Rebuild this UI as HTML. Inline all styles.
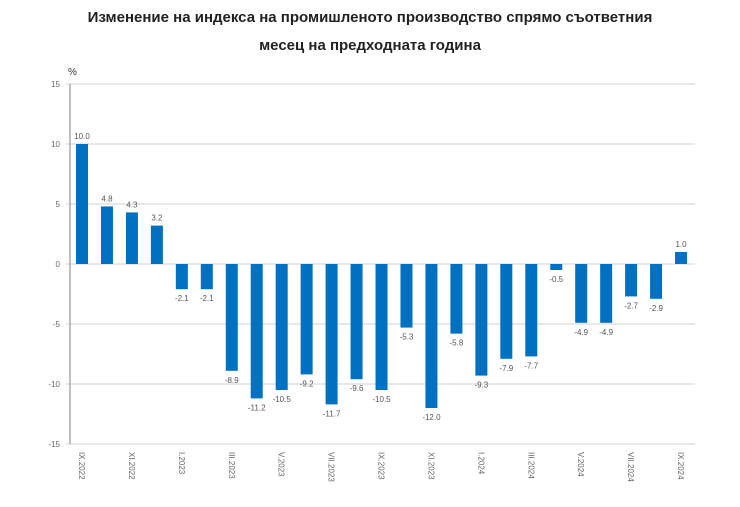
<!DOCTYPE html>
<html><head><meta charset="utf-8"><style>
body{margin:0;background:#fff;width:740px;height:502px;overflow:hidden}
svg text{font-family:"Liberation Sans","DejaVu Sans",sans-serif}
</style></head><body>
<svg width="740" height="502">
<text x="370" y="22" text-anchor="middle" font-size="15" font-weight="bold" fill="#222">Изменение на индекса на промишленото производство спрямо съответния</text>
<text x="370" y="50" text-anchor="middle" font-size="15" font-weight="bold" fill="#222">месец на предходната година</text>
<text x="68" y="75" font-size="10" fill="#333">%</text>
<g id="grid"></g><g id="bars"></g><g id="xl"></g>
</svg>
<script>
const categories=["IX.2022","X.2022","XI.2022","XII.2022","I.2023","II.2023","III.2023","IV.2023","V.2023","VI.2023","VII.2023","VIII.2023","IX.2023","X.2023","XI.2023","XII.2023","I.2024","II.2024","III.2024","IV.2024","V.2024","VI.2024","VII.2024","VIII.2024","IX.2024"];
const values=[10.0,4.8,4.3,3.2,-2.1,-2.1,-8.9,-11.2,-10.5,-9.2,-11.7,-9.6,-10.5,-5.3,-12.0,-5.8,-9.3,-7.9,-7.7,-0.5,-4.9,-4.9,-2.7,-2.9,1.0];
const yTicks=[15,10,5,0,-5,-10,-15];
const NS="http://www.w3.org/2000/svg";
const y=v=>264-v*12;
const x=i=>82+i*24.96;
function mk(t,a,p){const e=document.createElementNS(NS,t);for(const k in a)e.setAttribute(k,a[k]);p.appendChild(e);return e;}
const g=document.getElementById('grid'),b=document.getElementById('bars'),xl=document.getElementById('xl');
yTicks.forEach(v=>{
 const l=mk('line',{x1:66,x2:695,y1:y(v),y2:y(v),stroke:'#d0d0d0','stroke-width':1},g);
 
 
 const t=mk('text',{x:60,y:y(v)+3,'text-anchor':'end','font-size':8,fill:'#666'},g);t.textContent=v;
 
 
});
const ax=mk('line',{x1:70,x2:70,y1:84,y2:444,stroke:'#aaa','stroke-width':1.5},g);


values.forEach((v,i)=>{
 const top=Math.min(y(v),y(0)),h=Math.abs(y(v)-y(0));
 const r=mk('rect',{x:x(i)-6,y:top,width:12,height:h,fill:'#0070c0'},b);
 
 
 const t=mk('text',{x:x(i),y:v>=0?y(v)-5:y(v)+12,'text-anchor':'middle','font-size':8,fill:'#555'},b);
 t.textContent=v.toFixed(1);
 
 
 if(i%2===0){
  const lt=mk('text',{transform:`translate(${x(i)-3},452) rotate(90)`,'font-size':8,fill:'#666'},xl);
  lt.textContent=categories[i];
  
  
 }
});
</script>
</body></html>
